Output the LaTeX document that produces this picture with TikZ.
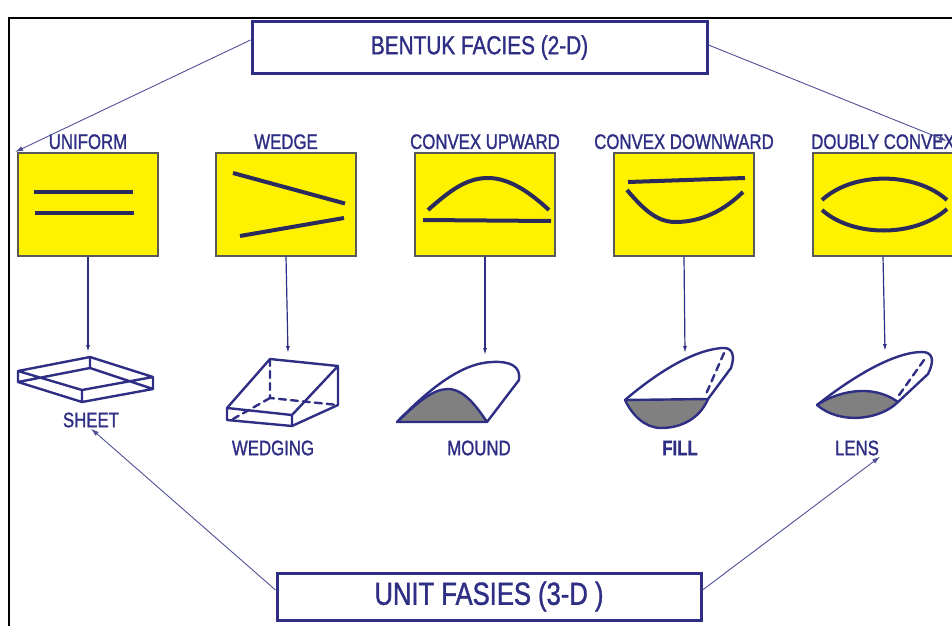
\documentclass[tikz,border=0pt]{standalone}
\usepackage{fontspec}
\setmainfont{Liberation Sans}[FakeStretch=0.8, FakeBold=1.2]
\usetikzlibrary{positioning,arrows.meta}

\definecolor{faciesnavy}{RGB}{46,46,132}
\definecolor{faciesink}{RGB}{42,42,92}
\definecolor{facieswire}{RGB}{80,80,150}
\definecolor{faciesgray}{RGB}{128,128,128}

\tikzset{
  headbox/.style={draw=faciesnavy, line width=3pt, fill=white, text=faciesnavy,
    minimum width=455pt, minimum height=51pt, inner sep=0pt,
    font=\fontsize{26}{28}\selectfont},
  facebox/.style={draw=black!65, line width=1.3pt, fill=yellow,
    minimum width=140pt, minimum height=103pt},
  tagtext/.style={text=faciesnavy, inner sep=1pt, font=\fontsize{21}{23}\selectfont},
  linkarrow/.style={draw=facieswire, line width=0.9pt, -{Latex[length=8pt,width=5pt]}},
  downarrow/.style={draw=faciesnavy, line width=1.2pt, -{Latex[length=7pt,width=4pt]}},
  curveline/.style={draw=faciesink, line width=4pt},
  blockline/.style={draw=faciesnavy, line width=2.4pt, line join=round, line cap=round},
  hiddenline/.style={blockline, dash pattern=on 7pt off 5pt},
}

\begin{document}
\begin{tikzpicture}[x=1pt,y=-1pt]
\useasboundingbox (0,0) rectangle (952,626);
\clip (0,0) rectangle (952,626);

% frame
\draw[black, line width=2.5pt] (9,626) -- (9,18) -- (960,18);

% the two title boxes
\node[headbox] (bentuk) at (479.5,47.5) {BENTUK FACIES (2-D)};
\node[headbox, minimum width=424pt, minimum height=47pt,
  font=\fontsize{32}{34}\selectfont] (unit) at (489,596.5) {UNIT FASIES (3-D )};

% 2-D sections in yellow boxes
\foreach \name/\cx/\lbl in {uniform/88/UNIFORM, wedge/286/WEDGE,
    upward/485/CONVEX UPWARD, downward/684/CONVEX DOWNWARD, doubly/883/DOUBLY CONVEX} {
  \node[facebox] (\name) at (\cx,204.5) {};
  \node[tagtext, above=2pt of \name] (\name-tag) {\lbl};
}

\begin{scope}[shift={(uniform.center)}]
  \draw[curveline] (-54,-12.5) -- (45,-12.5);
  \draw[curveline] (-53,8.5) -- (46,8.5);
\end{scope}
\begin{scope}[shift={(wedge.center)}]
  \draw[curveline] (-53,-31.5) -- (59,-1);
  \draw[curveline] (-46,31.5) -- (58,13.5);
\end{scope}
\begin{scope}[shift={(upward.center)}]
  \draw[curveline] (-57,5.5) .. controls (-35,-14) and (-18,-27) .. (4,-26.5)
    .. controls (25,-26) and (45,-12) .. (64,5.5);
  \draw[curveline] (-62,15.5) -- (66,16.5);
\end{scope}
\begin{scope}[shift={(downward.center)}]
  \draw[curveline] (-56,-22.5) -- (61,-26.5);
  \draw[curveline] (-57,-14.5) .. controls (-38,8) and (-25,18) .. (-7,17.5)
    .. controls (18,17) and (40,6) .. (59,-12.5);
\end{scope}
\begin{scope}[shift={(doubly.center)}]
  \draw[curveline] (-61,-4.5) .. controls (-30,-33) and (32,-33) .. (64,-4.5);
  \draw[curveline] (-61,5.5) .. controls (-30,33) and (32,33) .. (64,4.5);
\end{scope}

% 3-D bodies
% sheet
\draw[blockline] (18,371) -- (90,357) -- (153,377) -- (82,390) -- cycle
  (18,382) -- (82,402) -- (153,389) (18,382) -- (90,368) -- (153,389)
  (18,371) -- (18,382) (82,390) -- (82,402) (153,377) -- (153,389)
  (90,357) -- (90,368);
% wedging
\draw[blockline] (227,408) -- (270,359) -- (338,366) -- (338,405) -- (292,426)
  -- (227,420) -- cycle (227,408) -- (292,415) -- (338,366) (292,415) -- (292,426);
\draw[hiddenline] (270,359) -- (270,398) -- (338,405) (270,398) -- (233,419);
% mound
\draw[blockline, fill=faciesgray] (397,422) .. controls (418,402) and (433,389) .. (448,389)
  .. controls (464,389) and (477,407) .. (487,422) -- cycle;
\draw[blockline] (397,422) .. controls (430,388) and (462,363) .. (492,362)
  .. controls (510,361) and (521,366) .. (519,380) -- (487,422);
% fill
\draw[blockline, fill=faciesgray] (625,400) -- (708,399)
  .. controls (700,418) and (682,428) .. (661,428)
  .. controls (645,428) and (632,415) .. (625,400) -- cycle;
\draw[blockline] (625,400) .. controls (660,370) and (695,350) .. (722,348)
  .. controls (733,347) and (735,356) .. (731,368) -- (708,399);
\draw[hiddenline] (724,353) -- (706,394);
% lens
\draw[blockline, fill=faciesgray] (817,405) .. controls (835,393) and (870,382) .. (898,402)
  .. controls (880,420) and (840,425) .. (817,405) -- cycle;
\draw[blockline] (817,405) .. controls (855,375) and (895,352) .. (922,352)
  .. controls (934,352) and (934,362) .. (928,374) -- (898,402);
\draw[hiddenline] (924,360) -- (897,398);

% names of the bodies
\node[tagtext] (sheet) at (91,420) {SHEET};
\node[tagtext] (wedging) at (273,448) {WEDGING};
\node[tagtext] (mound) at (479,448) {MOUND};
\node[tagtext, font=\fontsize{21}{23}\bfseries] (fill) at (680,448) {FILL};
\node[tagtext] (lens) at (857,448) {LENS};

% arrow ends
\coordinate (sheet-top) at (88,352);
\coordinate (wedging-top) at (288,353);
\coordinate (mound-top) at (485,355);
\coordinate (fill-top) at (685,353);
\coordinate (lens-top) at (885,351);
\coordinate (left-tip) at (15,152);
\coordinate (right-tip) at (947,141);

\foreach \a/\b in {uniform/sheet, wedge/wedging, upward/mound, downward/fill, doubly/lens}
  \draw[downarrow] (\a.south) -- (\b-top);

\draw[linkarrow] (bentuk.west |- 0,40) -- (left-tip);
\draw[linkarrow] (bentuk.east |- 0,45) -- (right-tip);
\draw[linkarrow] (unit.west |- 0,590) -- (sheet.south);
\draw[linkarrow] (unit.east |- 0,590) -- (lens.south east);
\end{tikzpicture}
\end{document}
